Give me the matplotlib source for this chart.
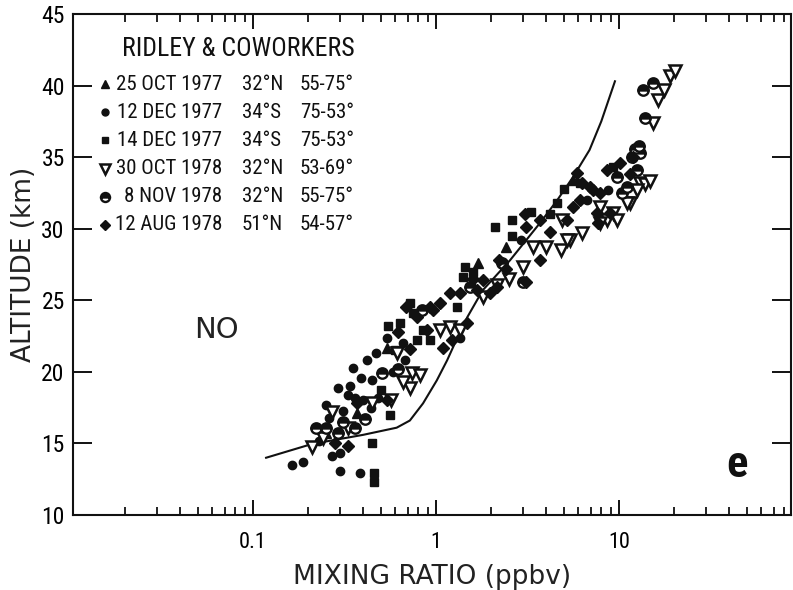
import matplotlib
matplotlib.use("Agg")
import matplotlib.pyplot as plt
from matplotlib import font_manager
from matplotlib.ticker import FixedLocator, FixedFormatter, LogLocator, NullFormatter


def narrow_font():
    entries = font_manager.fontManager.ttflist
    names = {f.name for f in entries}
    for cand in ("Liberation Sans Narrow", "Roboto Condensed", "Open Sans Condensed"):
        if cand in names:
            return {"family": cand}
    for f in entries:
        if f.name == "DejaVu Sans" and str(f.stretch) in ("condensed", "semi-condensed", "75", "87"):
            return {"family": "DejaVu Sans", "stretch": "condensed"}
    return {"family": "DejaVu Sans"}


NARROW = narrow_font()

# ---- model profile (solid line) ----
model_x = [0.118, 0.21, 0.40, 0.61, 0.72, 0.85, 1.01, 1.15, 1.3, 1.48, 1.8, 2.54,
           3.7, 4.6, 5.6, 6.9, 8.0, 9.5]
model_alt = [14.0, 14.96, 15.6, 16.1, 16.6, 17.8, 19.4, 20.8, 22.3, 23.8, 25.7, 27.8,
             30.4, 32.0, 33.6, 35.5, 37.5, 40.3]

# ---- Ridley & coworkers observations ----
oct77_x = [0.25, 0.37, 0.54, 1.7, 2.4, 5.6]
oct77_alt = [15.7, 17.1, 21.7, 27.6, 28.7, 33.4]

dec12_x = [0.163, 0.188, 0.30, 0.385, 0.27, 0.30, 0.25, 0.44, 0.33, 0.36, 0.35, 0.42,
           0.39, 0.45, 0.54, 0.68, 0.66, 0.40, 0.48, 2.9, 6.7, 8.7, 1.35,
           0.23, 0.26, 0.31, 0.34, 0.47, 0.58, 0.29]
dec12_alt = [13.5, 13.7, 13.1, 12.9, 14.1, 14.3, 17.7, 17.5, 18.4, 18.2, 20.3, 20.8,
             19.6, 19.4, 22.4, 20.8, 22.0, 18.0, 18.2, 29.2, 32.0, 32.7, 22.4,
             15.2, 16.8, 17.3, 19.0, 21.3, 20.0, 18.9]

dec14_x = [0.46, 0.46, 0.45, 0.56, 0.64, 0.75, 0.72, 0.85, 1.44, 1.4, 2.1, 4.6, 0.79,
           0.93, 2.6, 6.1, 9.3, 1.3, 0.5, 0.6, 0.55, 1.6, 2.6, 3.3, 4.2, 5.0]
dec14_alt = [12.9, 12.3, 15.0, 17.0, 23.4, 24.1, 24.8, 22.9, 27.3, 26.6, 30.1, 31.8,
             22.2, 22.2, 30.6, 33.2, 34.3, 24.5, 18.7, 21.5, 23.2, 27.0, 29.5, 31.2,
             31.0, 32.8]

oct78_x = [0.21, 0.27, 0.33, 0.61, 0.74, 0.72, 0.82, 1.05, 1.19, 1.35, 3.4, 4.0, 4.8,
           5.4, 4.9, 7.9, 8.6, 9.3, 13.0, 11.5, 11.0, 7.9, 5.2, 13.8, 15.3, 16.3, 19.0,
           20.2, 1.8, 2.15, 0.57, 0.24, 0.45, 0.66, 2.5, 3.0, 6.3, 9.8, 12.5, 14.8, 17.5]
oct78_alt = [14.75, 17.2, 16.1, 21.3, 19.9, 18.9, 19.8, 22.9, 23.1, 22.9, 28.7, 28.7,
             28.5, 29.2, 30.6, 31.5, 30.6, 31.1, 33.2, 31.8, 31.8, 30.4, 29.2, 33.1, 37.4,
             39.0, 40.7, 41.0, 25.2, 26.1, 18.0, 15.4, 17.8, 19.3, 26.5, 27.3, 29.7,
             30.6, 32.7, 33.3, 39.7]

nov78_x = [0.22, 0.25, 0.29, 0.36, 0.51, 0.84, 1.53, 2.99, 13.5, 15.3, 13.9, 12.2,
           13.0, 11.8, 12.5, 11.0, 10.4, 0.31, 0.41, 0.62, 2.3, 9.8, 12.8]
nov78_alt = [16.1, 16.1, 15.7, 16.1, 19.9, 24.3, 25.9, 26.3, 39.7, 40.2, 37.7, 35.6,
             35.3, 35.0, 34.1, 32.9, 32.5, 16.5, 16.7, 20.2, 27.6, 33.6, 35.8]

aug78_x = [0.54, 0.93, 1.09, 1.22, 1.35, 1.8, 2.15, 1.67, 1.97, 1.19, 0.96, 1.48,
           0.69, 0.79, 0.89, 3.06, 3.1, 3.7, 7.2, 7.7, 8.6, 10.1, 11.9, 3.7, 2.2,
           3.1, 11.5, 7.9, 6.1, 5.9, 6.3, 6.9, 5.2, 7.6, 8.9,
           0.62, 0.72, 1.05, 1.6, 2.4, 4.2, 5.6, 0.37, 0.28, 0.33]
aug78_alt = [18.0, 24.5, 21.7, 22.2, 25.5, 26.4, 25.9, 25.7, 25.5, 25.5, 24.3, 23.4,
             24.5, 23.8, 22.9, 31.0, 30.1, 30.6, 32.7, 30.4, 34.1, 34.6, 35.0, 27.8,
             27.8, 26.3, 33.8, 32.5, 32.0, 33.9, 33.2, 32.9, 30.6, 31.1, 31.1,
             22.8, 21.6, 24.8, 26.5, 27.2, 29.8, 31.5, 17.8, 15.0, 14.8]

legend_rows = [
    ("25 OCT 1977", "32°N", "55-75°"),
    ("12 DEC 1977", "34°S", "75-53°"),
    ("14 DEC 1977", "34°S", "75-53°"),
    ("30 OCT 1978", "32°N", "53-69°"),
    ("8 NOV 1978", "32°N", "55-75°"),
    ("12 AUG 1978", "51°N", "54-57°"),
]

x_major = [0.1, 1, 10]
x_major_labels = ["0.1", "1", "10"]
y_major = [10, 15, 20, 25, 30, 35, 40, 45]
y_major_labels = [str(v) for v in y_major]

fig = plt.figure(figsize=(7.93, 5.90), dpi=100)
ax = fig.add_axes([73 / 793, 75 / 590, 718 / 793, 501 / 590])
ax.set_xscale("log")
ax.set_xlim(0.0104, 87)
ax.set_ylim(10, 45)

ink = "#111111"
styles = [
    dict(marker="^", color=ink, ms=6.5, ls="none"),
    dict(marker="o", color=ink, ms=6.0, ls="none"),
    dict(marker="s", color=ink, ms=6.0, ls="none"),
    dict(marker="v", mfc="white", mec=ink, mew=1.8, ms=8, ls="none"),
    dict(marker="o", mfc=ink, mfcalt="white", fillstyle="top", mec=ink, mew=1.7, ms=7.5, ls="none"),
    dict(marker="D", color=ink, ms=6.0, ls="none"),
]
legend_ms = [5.5, 5.0, 5.0, 6.5, 6.5, 5.0]
series = [(oct77_x, oct77_alt), (dec12_x, dec12_alt), (dec14_x, dec14_alt),
          (oct78_x, oct78_alt), (nov78_x, nov78_alt), (aug78_x, aug78_alt)]

ax.plot(model_x, model_alt, color=ink, lw=1.5, zorder=2)
for (xs, ys), st in zip(series, styles):
    ax.plot(xs, ys, zorder=3, **st)

# axes frame and ticks
for sp in ax.spines.values():
    sp.set_linewidth(1.5)
    sp.set_color(ink)
ax.xaxis.set_major_locator(FixedLocator(x_major))
ax.xaxis.set_major_formatter(FixedFormatter(x_major_labels))
ax.xaxis.set_minor_locator(LogLocator(base=10, subs=range(2, 10)))
ax.xaxis.set_minor_formatter(NullFormatter())
ax.yaxis.set_major_locator(FixedLocator(y_major))
ax.yaxis.set_major_formatter(FixedFormatter(y_major_labels))
ax.tick_params(axis="x", which="major", direction="in", top=True, length=11, width=1.4,
               color=ink, pad=12, labelsize=16)
ax.tick_params(axis="x", which="minor", direction="in", top=True, length=6, width=1.3, color=ink)
ax.tick_params(axis="y", which="major", direction="in", right=True, length=14, width=1.4,
               color=ink, pad=6, labelsize=17)
for lab in ax.get_xticklabels() + ax.get_yticklabels():
    lab.set_family(NARROW["family"])
    if "stretch" in NARROW:
        lab.set_stretch(NARROW["stretch"])

ax.set_xlabel("MIXING RATIO (ppbv)", fontsize=19, color="#222222", labelpad=8)
ax.set_ylabel("ALTITUDE (km)", fontsize=19, color="#222222", labelpad=3)

# legend block
ax.text(0.068, 0.93, "RIDLEY & COWORKERS", transform=ax.transAxes, fontsize=18.5,
        va="center", ha="left", color=ink, **NARROW)
row_y = [0.860, 0.804, 0.748, 0.691, 0.635, 0.579]
for (date, lat, ang), yy, st, lms in zip(legend_rows, row_y, styles, legend_ms):
    mst = dict(st)
    mst["ms"] = lms
    ax.plot([0.044], [yy], transform=ax.transAxes, clip_on=False, **mst)
    ax.text(0.2075, yy, date, transform=ax.transAxes, fontsize=15, va="center",
            ha="right", color=ink, **NARROW)
    ax.text(0.235, yy, lat, transform=ax.transAxes, fontsize=15, va="center",
            ha="left", color=ink, **NARROW)
    ax.text(0.316, yy, ang, transform=ax.transAxes, fontsize=15, va="center",
            ha="left", color=ink, **NARROW)

ax.text(0.2, 0.37, "NO", transform=ax.transAxes, fontsize=21, ha="center", va="center",
        color="#222222")
ax.text(0.925, 0.1, "e", transform=ax.transAxes, fontsize=32, fontweight="bold",
        ha="center", va="center", color=ink, **NARROW)

fig.savefig("out.png", dpi=100)
